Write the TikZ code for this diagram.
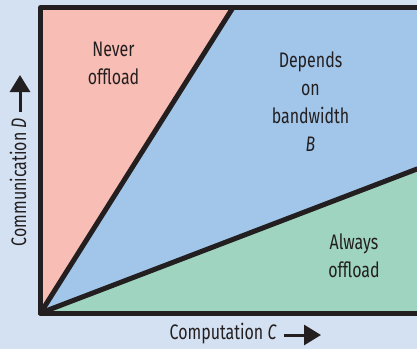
\documentclass[tikz,border=0pt]{standalone}
\usepackage{fontspec}
\setmainfont{Fira Sans}[FakeStretch=0.76]
\usetikzlibrary{arrows.meta}
\definecolor{bg}{HTML}{D4E1F2}
\definecolor{redreg}{HTML}{F8BDB4}
\definecolor{bluereg}{HTML}{A2C6EA}
\definecolor{greenreg}{HTML}{9FD5C0}
\definecolor{ink}{HTML}{231F20}
\tikzset{
  border/.style={draw=ink, line width=5pt, line join=round},
  divider/.style={draw=ink, line width=5pt, line cap=round},
  lbl/.style={text=ink, font=\fontsize{21}{28}\selectfont, align=center, inner sep=0pt},
  axlbl/.style={text=ink, font=\fontsize{21}{24}\selectfont, inner sep=0pt},
  axarrow/.style={draw=ink, line width=3pt, -{Triangle[width=20pt,length=17pt]}}
}
\begin{document}
\begin{tikzpicture}[x=1pt,y=-1pt]
\useasboundingbox (0,0) rectangle (417,349);
\fill[bg] (0,0) rectangle (417,349);
\coordinate (O) at (40.5,313);
\coordinate (TL) at (40.5,7.5);
\coordinate (T) at (233,7.5);
\coordinate (TR) at (417,7.5);
\coordinate (R) at (417,169);
\coordinate (BR) at (417,313);
\fill[redreg] (O) -- (TL) -- (T) -- cycle;
\fill[bluereg] (O) -- (T) -- (TR) -- (R) -- cycle;
\fill[greenreg] (O) -- (R) -- (BR) -- cycle;
\draw[divider] (O) -- (T);
\draw[divider] (O) -- (R);
\draw[border] (TR) -- (TL) -- (O) -- (BR);
\node[lbl] (never) at (113.5,63) {Never\\offload};
\node[lbl] (depends) at (310.5,102) {Depends\\on\\bandwidth\\\textit{B}};
\node[lbl] (always) at (354,256) {Always\\offload};
\node[axlbl, anchor=east] (xlab) at (277,334) {Computation \textit{C}};
\coordinate (xtip) at (321,335);
\draw[axarrow, shorten <=7pt] (xlab.east |- xtip) -- (xtip);
\node[axlbl, rotate=90, anchor=east] (ylab) at (18,118) {Communication \textit{D}};
\coordinate (ytip) at (20,75);
\draw[axarrow, shorten <=6pt] (ylab.east -| ytip) -- (ytip);
\end{tikzpicture}
\end{document}
